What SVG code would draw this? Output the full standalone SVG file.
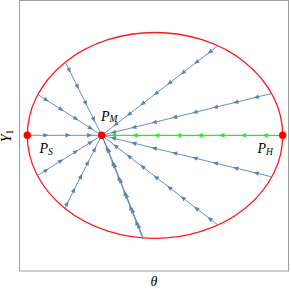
<svg xmlns="http://www.w3.org/2000/svg" width="291" height="289" viewBox="0 0 291 289">
<defs>
<style>
.frame{fill:none;stroke:#a0a0a0;stroke-width:1}
.traj{fill:none;stroke:#5e81b5;stroke-width:0.9;marker-mid:url(#ab)}
.green{fill:none;stroke:#22ee22;stroke-width:1.2;marker-mid:url(#ag)}
.bound{fill:none;stroke:#ff1a1a;stroke-width:1.3}
.pt{fill:#ff0000}
.lbl{font-family:"Liberation Serif",serif;font-style:italic;font-size:14px;fill:#000}
.sub{font-size:9.5px}
.up{font-style:normal}
</style>
<marker id="ab" markerUnits="userSpaceOnUse" markerWidth="8" markerHeight="8" viewBox="-6 -4 8 8" refX="0" refY="0" orient="auto">
<path d="M0.8,0 L-4.6,-2.2 L-4.6,2.2 Z" fill="#5e81b5"/>
</marker>
<marker id="ag" markerUnits="userSpaceOnUse" markerWidth="8" markerHeight="8" viewBox="-6 -4 8 8" refX="0" refY="0" orient="auto">
<path d="M0.8,0 L-4.6,-2.4 L-4.6,2.4 Z" fill="#22ee22"/>
</marker>
</defs>
<rect class="frame" x="19.5" y="0.5" width="269" height="270.5"/>
<g id="boundary">
<ellipse class="bound" cx="155" cy="135.4" rx="127.7" ry="102.9"/>
</g>
<g id="connectors">
<path class="traj" d="M65.4,62.2 L70.39,72.25 L78.53,88.64 L86.67,105.03 L94.81,121.42 L101.7,135.3"/>
<path class="traj" d="M37.9,94.5 L48.20,101.09 L62.94,110.52 L77.69,119.94 L92.43,129.37 L101.7,135.3"/>
<path class="traj" d="M217.7,45.9 L208.24,53.20 L194.77,63.58 L181.31,73.95 L167.84,84.33 L154.37,94.71 L140.91,105.09 L127.44,115.46 L113.98,125.84 L101.7,135.3"/>
<path class="traj" d="M271.5,93.5 L254.15,97.78 L233.76,102.80 L213.37,107.81 L192.97,112.83 L172.58,117.85 L152.19,122.87 L131.80,127.89 L111.41,132.91 L101.7,135.3"/>
<path class="traj" d="M27.3,135.3 L48,135.3 L70,135.3 L91.7,135.3 L101.7,135.3"/>
<path class="green" d="M282.7,135.3 L263.3,135.3 L241.6,135.3 L219.9,135.3 L198.2,135.3 L176.5,135.3 L154.8,135.3 L133.1,135.3 L111.4,135.3 L101.7,135.3"/>
<path class="traj" d="M37.5,175.6 L47.92,169.06 L62.74,159.76 L77.56,150.45 L92.38,141.15 L101.7,135.3"/>
<path class="traj" d="M64.8,208.2 L68.09,201.69 L74.96,188.12 L81.83,174.56 L88.69,161.00 L95.60,147.35 L101.7,135.3"/>
<path class="traj" d="M142.7,238.3 L135.72,220.78 L129.80,205.91 L123.89,191.05 L117.97,176.18 L112.05,161.31 L106.14,146.45 L101.7,135.3"/>
<path class="traj" d="M143.4,238.3 L137.58,223.71 L131.56,208.62 L125.54,193.53 L119.52,178.45 L113.49,163.36 L107.47,148.27 L101.7,135.3"/>
<path class="traj" d="M271.9,176.9 L254.21,172.57 L233.81,167.59 L213.41,162.60 L193.01,157.62 L172.61,152.63 L152.21,147.65 L131.81,142.66 L111.41,137.67 L101.7,135.3"/>
<path class="traj" d="M217.9,225 L208.17,217.49 L194.71,207.10 L181.26,196.72 L167.80,186.33 L154.34,175.94 L140.88,165.55 L127.43,155.16 L113.97,144.77 L101.7,135.3"/>
</g>
<g id="PS">
<circle class="pt" cx="27.3" cy="135.3" r="3.7"/>
<text class="lbl" x="39.5" y="152.5">P<tspan class="sub" dy="2">S</tspan></text>
</g>
<g id="PM">
<circle class="pt" cx="101.7" cy="135.3" r="3.7"/>
<text class="lbl" x="101" y="120.5">P<tspan class="sub" dy="1.5">M</tspan></text>
</g>
<g id="PH">
<circle class="pt" cx="282.7" cy="135.3" r="3.7"/>
<text class="lbl" x="257.5" y="152.5">P<tspan class="sub" dy="2">H</tspan></text>
</g>
<g id="axes-labels">
<text class="lbl" transform="translate(11,136) rotate(-90)" text-anchor="middle">Y<tspan class="sub up" dy="2">1</tspan></text>
<text class="lbl" x="154" y="285.5" text-anchor="middle">θ</text>
</g>
</svg>
